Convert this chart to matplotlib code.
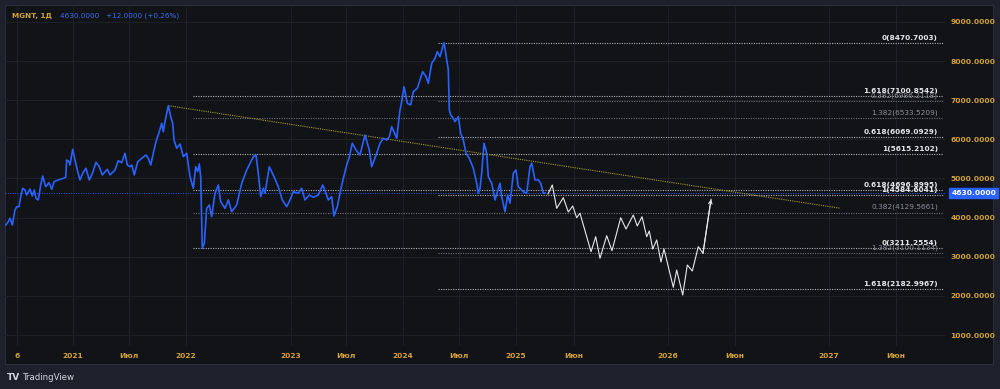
import matplotlib
matplotlib.use("Agg")
import matplotlib.pyplot as plt
from matplotlib.patches import Rectangle

# ---------------- data ----------------
# x positions are chart bar-positions (time axis units)
price_x = [5, 7.3, 10, 12.3, 15, 16.7, 19, 20.7, 22.7, 25, 26.7, 30, 32.3, 34.3, 36, 38.3, 40.7, 42.7,
           45.7, 49, 51.7, 54, 58.3, 63.3, 65.7, 66.7, 69, 70, 72.7, 75, 77.3, 80, 82.7, 86, 89.3,
           92.7, 96, 99.3, 102.3, 107.3, 110, 115, 118.3, 121.7, 125, 127.3, 130, 131.7, 134.3,
           137.7, 141.7, 146, 148.3, 150.7, 153.3, 156, 159.3, 161.7, 163.3, 165, 168.3, 170.7,
           172.7, 174, 176.7, 180, 183.3, 186.7, 190, 193.3, 195.7, 197.7, 199.3, 200.7, 202.3,
           204.3, 206.7, 209.3, 211.7, 215, 218.3, 220.7, 225, 228.3, 231.7, 236.7, 241.7, 246.7,
           253.3, 256, 258.3, 260.7, 263.3, 265, 269.3, 274, 278.3, 282.3, 286.7, 290, 293.3,
           298.3, 301.7, 305, 309.3, 313.3, 318.3, 322.7, 326, 328.3, 331.7, 334, 337.3, 340.7,
           343.3, 346.7, 349, 352.3, 356, 360, 365, 369.3, 371.7, 376.7, 380, 383.3, 386.7, 389.3,
           391.7, 396.7, 400, 401.7, 404, 407.3, 410.7, 413.3, 417.3, 420, 422.7, 426, 428.3,
           431.7, 435, 437.3, 440, 442.7, 444, 446, 448.3, 449.3, 450.7, 453.3, 455, 458.3, 460.7,
           463.3, 466, 469.3, 473.3, 476.7, 478.3, 480, 481.7, 484, 486.7, 488.3, 491.7, 495, 500,
           501.7, 505, 507.7, 510, 513.3, 516, 518.3, 523.3, 526.7, 530, 531.7, 535, 538.3, 540.7,
           543.3, 545]
price_y = [3800, 3855, 3983, 3812, 4195, 4279, 4280, 4535, 4750, 4706, 4578, 4732, 4553, 4706, 4494,
           4451, 4834, 5064, 4790, 4893, 4724, 4918, 4962, 5005, 5031, 5473, 5430, 5345, 5746,
           5473, 5217, 4962, 5133, 5261, 4962, 5148, 5414, 5302, 5090, 5235, 5090, 5217, 5455,
           5404, 5644, 5345, 5302, 5345, 5090, 5430, 5516, 5601, 5516, 5345, 5644, 5941, 6196,
           6411, 6196, 6452, 6860, 6580, 6411, 5984, 5772, 5882, 5557, 5644, 5046, 4750, 5302,
           5174, 5371, 5046, 3216, 3344, 4238, 4323, 4024, 4622, 4834, 4407, 4238, 4451, 4151,
           4323, 4877, 5217, 5557, 5601, 5133, 4535, 4750, 4622, 5302, 5046, 4790, 4451, 4279,
           4451, 4663, 4622, 4750, 4451, 4578, 4520, 4578, 4834, 4622, 4451, 4535, 4042, 4279,
           4706, 5000, 5345, 5516, 5900, 5729, 5601, 6112, 5729, 5302, 5644, 5900, 6028, 5984,
           6068, 6324, 6028, 6751, 6963, 7346, 6922, 6879, 7219, 7305, 7518, 7730, 7602, 7433,
           7945, 8072, 8241, 8113, 8369, 8470, 8157, 7773, 6751, 6623, 6539, 6452, 6580, 6155,
           5984, 5644, 5516, 5261, 4877, 4622, 4750, 5133, 5900, 5644, 5046, 4877, 4451, 4877,
           4535, 4151, 4578, 4366, 5133, 5217, 4790, 4663, 4622, 5302, 5389, 4962, 4962, 4877,
           4622, 4630]

proj_x = [548, 552.3, 556.7, 563.3, 568.3, 572.7, 576.7, 580, 591, 595.7, 600, 606.7, 612, 620.7,
          626, 633.3, 637.3, 642, 646.7, 649.3, 652.7, 656.7, 661, 664, 673.3, 676.7, 682.7, 687.3,
          692.3, 698.3, 703, 711]
proj_y = [4604, 4834, 4238, 4509, 4144, 4297, 3998, 4111, 3129, 3513, 2960, 3538, 3155, 3998, 3709,
          4067, 3786, 4024, 3513, 3658, 3198, 3428, 2866, 3198, 2219, 2661, 2022, 2789, 2636, 3257,
          3088, 4468]

trend_x = [168.3, 840]
trend_y = [6861, 4241]

last_price = 4630.0

fib_a_ratios = ["0", "0.382", "0.618", "1", "1.382", "1.618"]
fib_a_prices = [3211.2554, 4129.5661, 4696.8995, 5615.2102, 6533.5209, 7100.8542]
fib_a_start = 193
fib_b_ratios = ["0", "0.382", "0.618", "1", "1.382", "1.618"]
fib_b_prices = [8470.7003, 6986.2118, 6069.0929, 4584.6041, 3100.1134, 2182.9967]
fib_b_start = 438
fib_end = 943

xtick_pos = [17, 73, 129, 186, 291, 346, 403, 459, 516, 574, 668, 735, 829, 896]
xtick_labels = ["6", "2021", "Июл", "2022", "2023", "Июл", "2024", "Июл", "2025", "Июн",
                "2026", "Июн", "2027", "Июн"]
ytick_vals = [1000, 2000, 3000, 4000, 5000, 6000, 7000, 8000, 9000]

# ---------------- style ----------------
OUTER = "#1e212b"
PANE = "#111317"
GRID = "#1d2026"
GOLD = "#d3a23a"
BLUE = "#2962ff"
WHITE = "#e6e7ea"
GRAY = "#8c8f98"

plt.rcParams["font.family"] = ["DejaVu Sans"]

fig = plt.figure(figsize=(10, 3.89), dpi=100, facecolor=OUTER)
W, H = 1000, 389
# chart panel background (behind everything)
bg = fig.add_axes([5 / W, 1 - 364 / H, 988 / W, 359 / H], zorder=-5)
bg.set_facecolor(PANE)
bg.set_xticks([])
bg.set_yticks([])
for s in bg.spines.values():
    s.set_color("#2a2e39")
    s.set_linewidth(0.8)

ax = fig.add_axes([5 / W, 1 - 346 / H, 940 / W, 339 / H], zorder=1)
ax.set_facecolor("none")
ax.set_xlim(5, 945)
ax.set_ylim(719, 9383)
for s in ax.spines.values():
    s.set_visible(False)

ax.set_xticks(xtick_pos)
ax.set_xticklabels(xtick_labels)
ax.set_yticks(ytick_vals)
ax.set_yticklabels([f"{v:.4f}" for v in ytick_vals])
ax.yaxis.tick_right()
ax.tick_params(axis="x", length=0, pad=5, colors=GOLD, labelsize=5.4)
ax.tick_params(axis="y", length=0, pad=4, colors=GOLD, labelsize=5.4)
for lab in ax.get_xticklabels() + ax.get_yticklabels():
    lab.set_fontweight("bold")
ax.grid(True, color=GRID, lw=0.8)
ax.set_axisbelow(True)

# fib levels
def draw_fib(ratios, prices, x0):
    for r, p in zip(ratios, prices):
        col = GRAY if r in ("0.382", "1.382") else WHITE
        ax.plot([x0, fib_end], [p, p], color=col, lw=0.8, ls=(0, (1, 1.2)), alpha=0.75, zorder=2)
        ax.annotate(f"{r}({p:.4f})", xy=(938, p), xytext=(0, 1.5), textcoords="offset points",
                    ha="right", va="bottom", color=col, fontsize=5.3,
                    fontweight="bold" if col == WHITE else "normal", zorder=5)

draw_fib(fib_a_ratios, fib_a_prices, fib_a_start)
draw_fib(fib_b_ratios, fib_b_prices, fib_b_start)

# last price line
ax.axhline(last_price, color=BLUE, lw=0.7, ls=(0, (1, 1.5)), alpha=0.9, zorder=2)

# trend line
ax.plot(trend_x, trend_y, color="#a99a2c", lw=0.8, ls=(0, (1, 1)), zorder=3)

# price
ax.plot(price_x, price_y, color=BLUE, lw=1.2, zorder=4, solid_joinstyle="round")

# projection
ax.plot(proj_x, proj_y, color=WHITE, lw=0.8, zorder=4)
ax.annotate("", xy=(proj_x[-1], proj_y[-1]), xytext=(proj_x[-2], proj_y[-2]),
            arrowprops=dict(arrowstyle="->", color=WHITE, lw=0.8, mutation_scale=6,
                            shrinkA=0, shrinkB=0), zorder=4)

# last price label on price axis
ax.annotate(f"{last_price:.4f}", xy=(1, last_price), xycoords=("axes fraction", "data"),
            xytext=(4.5, 0), textcoords="offset points", ha="left", va="center",
            color="white", fontsize=5.4, fontweight="bold",
            bbox=dict(boxstyle="square,pad=0.3", facecolor=BLUE, edgecolor=BLUE), zorder=6)

# header
fig.text(12 / W, 1 - 16 / H, "MGNT, 1Д", color=GOLD, fontsize=5.2, fontweight="bold",
         va="center", ha="left")
fig.text(60 / W, 1 - 16 / H, "4630.0000   +12.0000 (+0.26%)", color="#3a6df0", fontsize=5.2,
         va="center", ha="left")

# footer logo
fig.text(7 / W, 1 - 378 / H, "TV", color="#d1d4dc", fontsize=6.5, fontweight="heavy",
         va="center", ha="left")
fig.text(23 / W, 1 - 378 / H, "TradingView", color="#d1d4dc", fontsize=6.2,
         va="center", ha="left")

fig.savefig("out.png", dpi=100, facecolor=OUTER)
